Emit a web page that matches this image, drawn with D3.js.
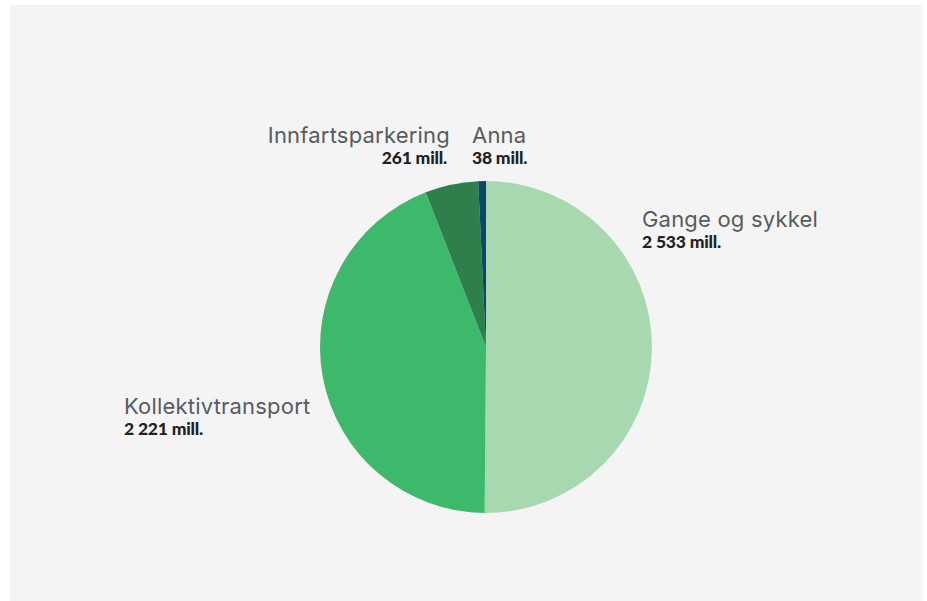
<!DOCTYPE html>
<html><head><meta charset="utf-8">
<script src="https://cdn.jsdelivr.net/npm/d3@7"></script>
<style>body{margin:0;background:#fff;}svg{display:block;}</style>
</head><body>
<svg id="c" width="927" height="601"></svg>
<script>
const categories = ["Gange og sykkel", "Kollektivtransport", "Innfartsparkering", "Anna"];
const values = [2533, 2221, 261, 38];
const valueLabels = ["2 533 mill.", "2 221 mill.", "261 mill.", "38 mill."];
const colors = ["#a7d8b0", "#3db96b", "#2e7f4b", "#0b4766"];

const svg = d3.select("#c");
svg.append("rect").attr("x", 10).attr("y", 5).attr("width", 913).attr("height", 596).attr("fill", "#f4f4f4");

const cx = 486, cy = 347, r = 166;
const pie = d3.pie().sort(null).value(d => d)(values);
const arc = d3.arc().innerRadius(0).outerRadius(r);
const g = svg.append("g").attr("transform", `translate(${cx},${cy})`);
g.selectAll("path").data(pie).join("path").attr("d", arc).attr("fill", (d, i) => colors[i]);

const labelPos = [
  {x: 642, y: 227, anchor: "start"},
  {x: 124, y: 414, anchor: "start"},
  {x: 450, y: 143, anchor: "end"},
  {x: 472, y: 143, anchor: "start"}
];
categories.forEach((c, i) => {
  const p = labelPos[i];
  svg.append("text").attr("x", p.x).attr("y", p.y).attr("text-anchor", p.anchor)
    .attr("font-family", "Inter, sans-serif").attr("font-size", 22).attr("letter-spacing", 0.2).attr("fill", "#575c5f").text(c);
  svg.append("text").attr("x", p.anchor === "end" ? p.x - 3 : p.x).attr("y", p.y + 21).attr("text-anchor", p.anchor)
    .attr("font-family", "Lato, sans-serif").attr("font-weight", 900).attr("font-size", 17.5).attr("letter-spacing", -0.2).attr("fill", "#222").text(valueLabels[i]);
});
</script>
</body></html>
